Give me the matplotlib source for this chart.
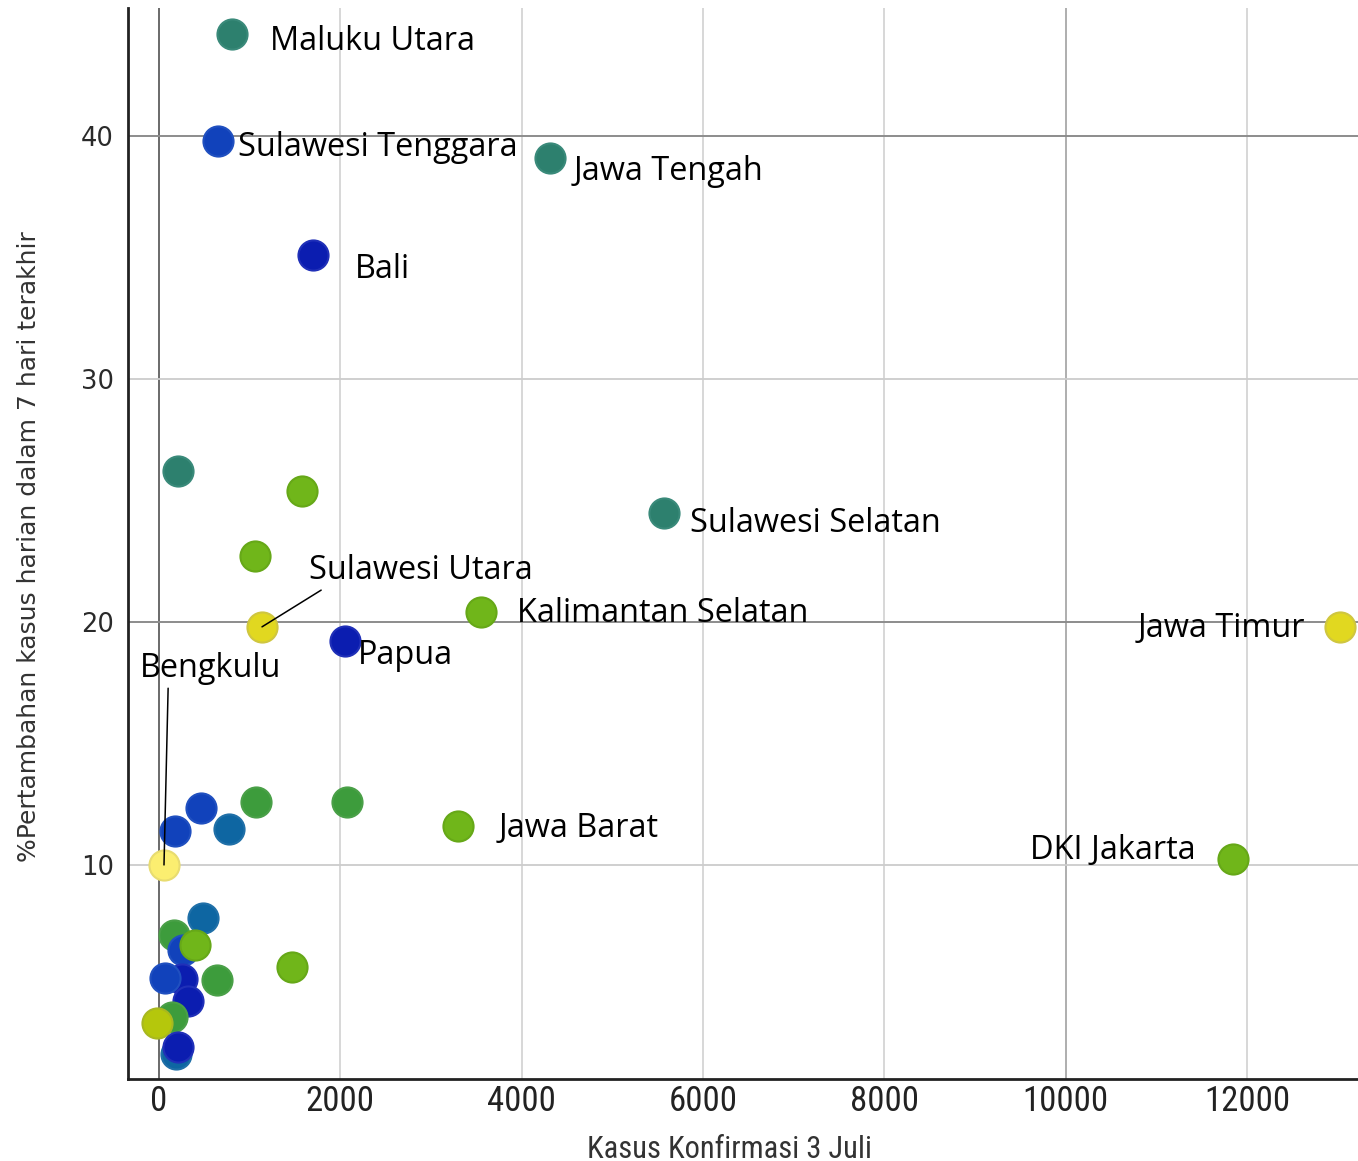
import matplotlib
matplotlib.use("Agg")
import matplotlib.pyplot as plt
from matplotlib import font_manager

# --- data --------------------------------------------------------------
# confirmed cases on 3 July, % growth of daily cases over the last 7 days
kasus = [
    805, 651, 4312, 1698, 210, 1577, 5570, 1059, 1136, 3551, 2051, 13025,
    55, 11845, 3298, 1070, 2073, 463, 176, 772,
    489, 169, 268, 397, 1470, 636, 250, 66, 323, 140, -25, 187, 213,
]
persen = [
    44.2, 39.8, 39.1, 35.1, 26.2, 25.4, 24.5, 22.7, 19.8, 20.4, 19.2, 19.8,
    10.0, 10.25, 11.6, 12.6, 12.6, 12.35, 11.4, 11.5,
    7.8, 7.1, 6.5, 6.7, 5.8, 5.25, 5.3, 5.35, 4.4, 3.75, 3.5, 2.2, 2.5,
]
grup = [
    "teal", "blue", "teal", "navy", "teal", "lime", "teal", "lime", "yellow",
    "lime", "navy", "yellow", "paleyellow", "lime", "lime", "green", "green",
    "blue", "blue", "steel",
    "steel", "green", "blue", "lime", "lime", "green", "navy", "blue", "navy",
    "green", "olive", "steel", "navy",
]
provinsi = [
    "Maluku Utara", "Sulawesi Tenggara", "Jawa Tengah", "Bali", "",
    "", "Sulawesi Selatan", "", "Sulawesi Utara", "Kalimantan Selatan",
    "Papua", "Jawa Timur", "Bengkulu", "DKI Jakarta", "Jawa Barat",
    "", "", "", "", "", "", "", "", "", "", "", "", "", "", "", "", "", "",
]

warna = {
    "teal": "#2d806e",
    "blue": "#1142bb",
    "navy": "#0b1db0",
    "steel": "#0e66a2",
    "green": "#3d9c3c",
    "lime": "#70b61a",
    "yellow": "#e1d820",
    "paleyellow": "#fbee70",
    "olive": "#b5c70c",
}
tepi = {
    "teal": "#3a8a7a",
    "blue": "#2050c0",
    "navy": "#2030b8",
    "steel": "#2070a8",
    "green": "#4aa048",
    "lime": "#66a818",
    "yellow": "#cfc640",
    "paleyellow": "#e8dc70",
    "olive": "#a8b820",
}

# label offsets in pixels (dx, dy, ha), relative to the point
label_pos = {
    "Maluku Utara": (38, -8, "left"),
    "Sulawesi Tenggara": (20, -7, "left"),
    "Jawa Tengah": (24, -14, "left"),
    "Bali": (42, -14, "left"),
    "Sulawesi Selatan": (26, -11, "left"),
    "Sulawesi Utara": (47, 56, "left"),
    "Kalimantan Selatan": (36, -1, "left"),
    "Papua": (13, -14, "left"),
    "Bengkulu": (-24, 196, "left"),
    "Jawa Timur": (-35, -2, "right"),
    "DKI Jakarta": (-37, 8, "right"),
    "Jawa Barat": (41, -2, "left"),
}
leader = {"Sulawesi Utara": (0.11, 0.15), "Bengkulu": (0.2, 0.1)}


def pick(*names):
    have = {f.name for f in font_manager.fontManager.ttflist}
    for n in names:
        if n in have:
            return n
    return "DejaVu Sans"


label_font = pick("Open Sans", "Lato")
narrow_font = pick("Liberation Sans Narrow", "Roboto Condensed", "Liberation Sans")

fig = plt.figure(figsize=(13.58, 11.61), dpi=100)
ax = fig.add_axes([128 / 1358, 1 - 1079 / 1161, 1 - 128 / 1358, (1079 - 8) / 1161])

ax.set_xlim(-342, 13224)
ax.set_ylim(1.19, 45.27)

# grid: faint lines, heavier ones at 0 / 10000 and 20 / 40
for v in [2000, 4000, 6000, 8000, 12000]:
    ax.axvline(v, color="#d4d4d4", lw=1.3, zorder=0)
ax.axvline(10000, color="#a8a8a8", lw=1.3, zorder=0)
ax.axvline(0, color="#6a6a6a", lw=1.4, zorder=0)
for v in [10, 30]:
    ax.axhline(v, color="#cccccc", lw=1.3, zorder=0)
for v in [20, 40]:
    ax.axhline(v, color="#8c8c8c", lw=1.4, zorder=0)

for x, y, g in zip(kasus, persen, grup):
    ax.scatter(x, y, s=470, color=warna[g], edgecolors=tepi[g], linewidths=1.5,
               zorder=3, clip_on=False)

for x, y, name in zip(kasus, persen, provinsi):
    if not name:
        continue
    dx, dy, ha = label_pos[name]
    kw = {}
    if name in leader:
        kw["arrowprops"] = dict(arrowstyle="-", color="black", lw=1.1,
                                relpos=leader[name], shrinkA=0, shrinkB=0)
    ax.annotate(name, (x, y), xytext=(dx * 0.72, dy * 0.72),
                textcoords="offset points", ha=ha, va="center",
                fontsize=23.4, family=label_font, color="black", zorder=5, **kw)

ax.spines["top"].set_visible(False)
ax.spines["right"].set_visible(False)
ax.spines["left"].set_linewidth(2)
ax.spines["bottom"].set_linewidth(2)
ax.spines["left"].set_color("#222222")
ax.spines["bottom"].set_color("#222222")

ax.set_xticks([0, 2000, 4000, 6000, 8000, 10000, 12000])
ax.set_yticks([10, 20, 30, 40])
ax.tick_params(axis="both", length=0)
ax.tick_params(axis="y", pad=10, labelsize=18.5, labelcolor="#2a2a2a")
ax.tick_params(axis="x", pad=4, labelcolor="#222222")
for t in ax.get_xticklabels():
    t.set_family(narrow_font)
    t.set_fontsize(25)

ax.set_xlabel("Kasus Konfirmasi 3 Juli", family=narrow_font, fontsize=22,
              color="#333333")
ax.xaxis.set_label_coords(0.489, -0.052)
ax.set_ylabel("%Pertambahan kasus harian dalam 7 hari terakhir", fontsize=18,
              color="#333333")
ax.yaxis.set_label_coords(-0.071, 0.497)

fig.savefig("out.png", dpi=100)
